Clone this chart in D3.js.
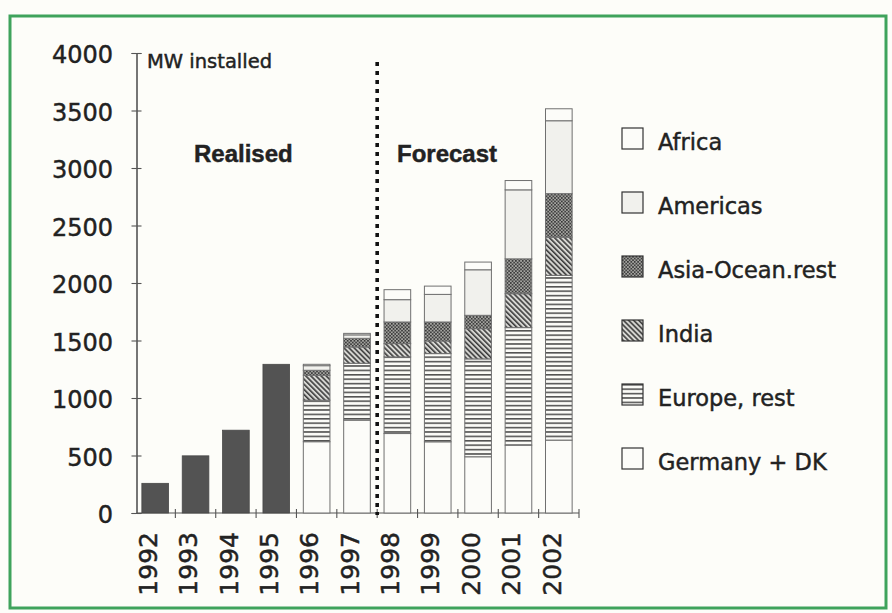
<!DOCTYPE html>
<html>
<head>
<meta charset="utf-8">
<script src="https://cdn.jsdelivr.net/npm/d3@7/dist/d3.min.js"></script>
<style>
  html, body { margin: 0; padding: 0; background: #fdfdf9; }
  svg { display: block; }
  text { font-family: "DejaVu Sans", sans-serif; fill: #222; stroke: #222; stroke-width: 0.45px; }
</style>
</head>
<body>
<svg id="chart" width="892" height="613"></svg>
<script>
// ---- data ----
const years = ["1992","1993","1994","1995","1996","1997","1998","1999","2000","2001","2002"];
const realisedYears = ["1992","1993","1994","1995"];
const realised = [258, 497, 720, 1293];
const forecastYears = ["1996","1997","1998","1999","2000","2001","2002"];
const germanyDK  = [620, 807, 691, 619, 489, 590, 634];
const europeRest = [361, 495, 666, 767, 851, 1022, 1432];
const india      = [217, 142, 116, 110, 263, 295, 333];
const asiaOcean  = [43, 75, 188, 165, 116, 303, 378];
const americas   = [40, 30, 194, 240, 396, 600, 634];
const africa     = [12, 13, 87, 72, 67, 81, 104];
const seriesKeys = ["germany", "europe", "india", "asia", "americas", "africa"];
const legendLabels = ["Africa", "Americas", "Asia-Ocean.rest", "India", "Europe, rest", "Germany + DK"];
const legendKeys = ["africa", "americas", "asia", "india", "europe", "germany"];
const yTicks = [0, 500, 1000, 1500, 2000, 2500, 3000, 3500, 4000];

// ---- table for stacking ----
const table = forecastYears.map((yr, i) => ({
  year: yr,
  germany: germanyDK[i], europe: europeRest[i], india: india[i],
  asia: asiaOcean[i], americas: americas[i], africa: africa[i]
}));

const svg = d3.select("#chart");

// patterns
const defs = svg.append("defs");
const pEur = defs.append("pattern").attr("id", "p-europe").attr("patternUnits", "userSpaceOnUse")
  .attr("width", 8).attr("height", 4.4);
pEur.append("rect").attr("width", 8).attr("height", 4.4).attr("fill", "#fbfbf7");
pEur.append("line").attr("x1", 0).attr("x2", 8).attr("y1", 0.8).attr("y2", 0.8)
  .attr("stroke", "#2e2e2e").attr("stroke-width", 1.3);

const pInd = defs.append("pattern").attr("id", "p-india").attr("patternUnits", "userSpaceOnUse")
  .attr("width", 3.6).attr("height", 3.6).attr("patternTransform", "rotate(-45)");
pInd.append("rect").attr("width", 3.6).attr("height", 3.6).attr("fill", "#d6d6d2");
pInd.append("line").attr("x1", 0.8).attr("x2", 0.8).attr("y1", 0).attr("y2", 3.6)
  .attr("stroke", "#333").attr("stroke-width", 1.5);

const pAsia = defs.append("pattern").attr("id", "p-asia").attr("patternUnits", "userSpaceOnUse")
  .attr("width", 3.4).attr("height", 3.4);
pAsia.append("rect").attr("width", 3.4).attr("height", 3.4).attr("fill", "#a4a4a0");
pAsia.append("rect").attr("x", 0).attr("y", 0).attr("width", 1.6).attr("height", 1.6).attr("fill", "#333");
pAsia.append("rect").attr("x", 1.7).attr("y", 1.7).attr("width", 1.6).attr("height", 1.6).attr("fill", "#333");

const fills = {
  germany: "#fcfcf9",
  europe: "url(#p-europe)",
  india: "url(#p-india)",
  asia: "url(#p-asia)",
  americas: "#f1f1ed",
  africa: "#fcfcf9"
};

// frame
svg.append("rect").attr("x", 10).attr("y", 16).attr("width", 876).attr("height", 592)
  .attr("fill", "#fdfdf9").attr("stroke", "#3fa35c").attr("stroke-width", 3);

// scales
const x = d3.scaleBand().domain(years).range([135, 579]).paddingInner(0.34).paddingOuter(0.17);
const y = d3.scaleLinear().domain([0, 4000]).range([513, 53]);

// y axis (crossing ticks)
const yAxisL = d3.axisLeft(y).tickValues(yTicks).tickSize(5).tickFormat("");
const yAxisR = d3.axisRight(y).tickValues(yTicks).tickSize(5).tickFormat("");
const gyl = svg.append("g").attr("transform", "translate(136.5,0)").call(yAxisL);
const gyr = svg.append("g").attr("transform", "translate(136.5,0)").call(yAxisR);
[gyl, gyr].forEach(g => {
  g.selectAll("path").attr("stroke", "#555").attr("stroke-width", 1.1);
  g.selectAll("line").attr("stroke", "#555").attr("stroke-width", 1.1);
});
svg.append("g").selectAll("text").data(yTicks).join("text")
  .attr("x", 113).attr("y", d => y(d)).attr("dy", "0.42em")
  .attr("text-anchor", "end").attr("font-size", 24).text(d => d);

// x axis line and boundary ticks
const step = x.step();
const bw = x.bandwidth();
const boundaries = years.map(yr => x(yr) - (step - bw) / 2).concat([x(years[years.length - 1]) + bw + (step - bw) / 2]);
svg.append("line").attr("x1", 136.5).attr("x2", boundaries[boundaries.length - 1])
  .attr("y1", y(0)).attr("y2", y(0)).attr("stroke", "#555").attr("stroke-width", 1.1);
svg.append("g").selectAll("line").data(boundaries.slice(1)).join("line")
  .attr("x1", d => d).attr("x2", d => d).attr("y1", y(0) - 4).attr("y2", y(0) + 5)
  .attr("stroke", "#555").attr("stroke-width", 1.1);

// year labels
svg.append("g").selectAll("text").data(years).join("text")
  .attr("transform", d => `translate(${x(d) + bw / 2 - 7},532) rotate(-90)`)
  .attr("dy", "0.35em").attr("text-anchor", "end").attr("font-size", 25).text(d => d);

// realised bars
svg.append("g").selectAll("rect").data(realisedYears).join("rect")
  .attr("x", d => x(d)).attr("width", bw)
  .attr("y", (d, i) => y(realised[i])).attr("height", (d, i) => y(0) - y(realised[i]))
  .attr("fill", "#535353").attr("stroke", "#474747").attr("stroke-width", 0.8);

// stacked forecast bars
const stacked = d3.stack().keys(seriesKeys)(table);
svg.append("g").selectAll("g").data(stacked).join("g")
  .attr("fill", s => fills[s.key])
  .selectAll("rect").data(s => s).join("rect")
  .attr("x", d => x(d.data.year)).attr("width", bw)
  .attr("y", d => y(d[1])).attr("height", d => y(d[0]) - y(d[1]))
  .attr("stroke", "#707070").attr("stroke-width", 1);

// dotted divider between realised and forecast
const divX = x("1998") - (step - bw) / 2;
svg.append("line").attr("x1", divX).attr("x2", divX).attr("y1", 62).attr("y2", y(0) + 2)
  .attr("stroke", "#111").attr("stroke-width", 3.6).attr("stroke-dasharray", "4,5");

// annotations
svg.append("text").attr("x", 147).attr("y", 68).attr("font-size", 19.5).text("MW installed");
svg.append("text").attr("x", 194).attr("y", 162).attr("font-size", 24).attr("font-weight", "bold")
  .style("font-family", "'Liberation Sans', Arial, sans-serif").text("Realised");
svg.append("text").attr("x", 397).attr("y", 162).attr("font-size", 24).attr("font-weight", "bold")
  .style("font-family", "'Liberation Sans', Arial, sans-serif").text("Forecast");

// legend
const lg = svg.append("g").selectAll("g").data(legendKeys).join("g")
  .attr("transform", (d, i) => `translate(622,${128 + i * 64})`);
lg.append("rect").attr("width", 21).attr("height", 21)
  .attr("fill", d => fills[d]).attr("stroke", "#333").attr("stroke-width", 1.2);
lg.append("text").attr("x", 36).attr("y", 22).attr("font-size", 22.5).text((d, i) => legendLabels[i]);
</script>
</body>
</html>
